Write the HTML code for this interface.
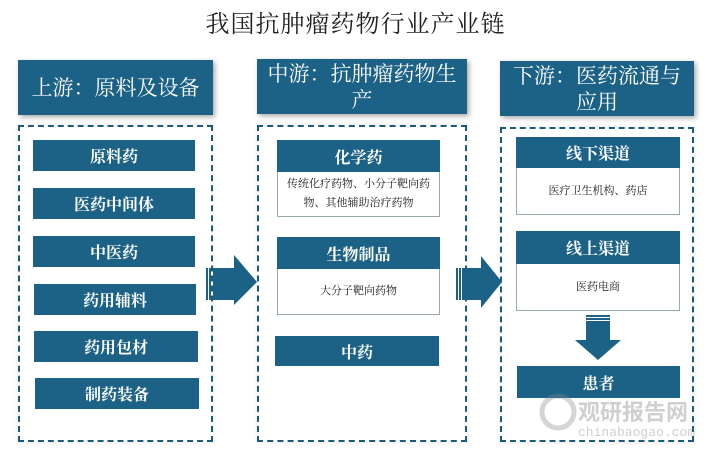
<!DOCTYPE html>
<html><head><meta charset="utf-8"><style>
*{margin:0;padding:0;box-sizing:border-box}
body{width:711px;height:458px;background:#fff;position:relative;overflow:hidden;font-family:"Liberation Serif","Noto Serif CJK SC",serif}
.a{position:absolute}
.t{left:0;width:711px;top:4px;text-align:center;font-size:24px;color:#222;letter-spacing:1px}
.h{background:#1c6287;color:#fff;font-size:21px;text-align:center;line-height:26px;display:flex;align-items:center;justify-content:center;box-shadow:2px 2px 5px rgba(0,0,0,.35)}
.d{border:2px dashed #1c5a7a;box-shadow:0 0 4px rgba(0,0,0,.1)}
.b{background:#1c6287;color:#fff;font-size:16px;text-align:center;display:flex;align-items:center;justify-content:center;font-weight:bold}
.w{background:#fff;border:1px solid #9aa;border-top:none;font-size:11px;color:#222;text-align:center;display:flex;align-items:center;justify-content:center;line-height:19px}
</style></head><body>
<div class="a t">我国抗肿瘤药物行业产业链</div>

<div class="a h" style="left:18px;top:60px;width:195px;height:55px">上游：原料及设备</div>
<div class="a h" style="left:257px;top:59px;width:210px;height:55px;padding:0 6px">中游：抗肿瘤药物生产</div>
<div class="a h" style="left:500px;top:61px;width:194px;height:55px;padding:0 6px">下游：医药流通与应用</div>

<div class="a d" style="left:18px;top:125px;width:195px;height:317px"></div>
<div class="a d" style="left:257px;top:125px;width:210px;height:317px"></div>
<div class="a d" style="left:500px;top:127px;width:194px;height:315px"></div>

<div class="a b" style="left:33px;top:140px;width:162px;height:31px">原料药</div>
<div class="a b" style="left:33px;top:188px;width:162px;height:31px">医药中间体</div>
<div class="a b" style="left:33px;top:236px;width:162px;height:31px">中医药</div>
<div class="a b" style="left:34px;top:284px;width:162px;height:31px">药用辅料</div>
<div class="a b" style="left:34px;top:331px;width:164px;height:31px">药用包材</div>
<div class="a b" style="left:35px;top:378px;width:164px;height:31px">制药装备</div>

<div class="a b" style="left:277px;top:140px;width:163px;height:32px">化学药</div>
<div class="a w" style="left:277px;top:172px;width:163px;height:45px">传统化疗药物、小分子靶向药<br>物、其他辅助治疗药物</div>
<div class="a b" style="left:277px;top:237px;width:163px;height:32px">生物制品</div>
<div class="a w" style="left:277px;top:269px;width:163px;height:46px">大分子靶向药物</div>
<div class="a b" style="left:275px;top:336px;width:164px;height:30px">中药</div>

<div class="a b" style="left:516px;top:137px;width:164px;height:31px">线下渠道</div>
<div class="a w" style="left:516px;top:168px;width:164px;height:47px">医疗卫生机构、药店</div>
<div class="a b" style="left:516px;top:231px;width:164px;height:33px">线上渠道</div>
<div class="a w" style="left:516px;top:264px;width:164px;height:47px">医药电商</div>
<div class="a b" style="left:517px;top:366px;width:163px;height:32px">患者</div>

<svg class="a" style="left:0;top:0" width="711" height="458">
<g fill="#1c6287">
<rect x="206" y="268" width="2" height="32"/><rect x="209" y="268" width="2" height="32"/>
<polygon points="213,268 234,268 234,255 257,282 234,305 234,300 213,300"/>
<rect x="456" y="268" width="2" height="32"/><rect x="459" y="268" width="2" height="32"/>
<polygon points="462,268 481,268 481,256 502,282 481,308 481,300 462,300"/>
<rect x="586" y="315" width="24" height="2"/><rect x="586" y="318" width="24" height="2"/>
<polygon points="586,321 610,321 610,340 621,340 598,360 575,340 586,340"/>
</g>
<g opacity="0.35">
<circle cx="558" cy="412" r="16" fill="none" stroke="#888" stroke-width="5"/>
<text x="578" y="420" font-size="22" font-weight="bold" fill="#777" font-family="Noto Sans CJK SC,sans-serif">观研报告网</text>
<text x="578" y="436" font-size="13" fill="#777" font-family="Liberation Mono,monospace">chinabaogao.com</text>
</g>
</svg>
</body></html>
